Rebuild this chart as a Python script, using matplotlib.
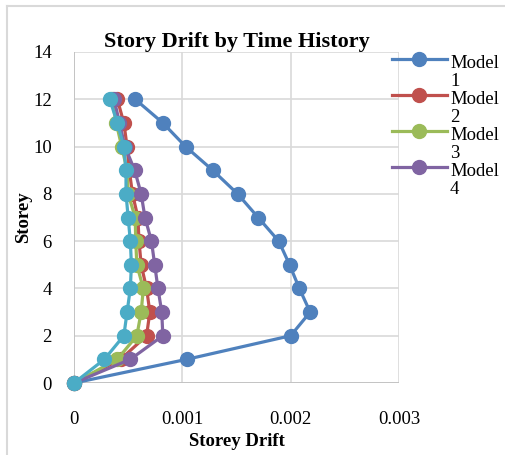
import matplotlib
matplotlib.use("Agg")
import matplotlib.pyplot as plt
from matplotlib.lines import Line2D

plt.rcParams.update({
    "font.family": "serif",
    "font.serif": ["Liberation Serif", "DejaVu Serif"],
    "font.size": 13.5,
})

storey = [0, 1, 2, 3, 4, 5, 6, 7, 8, 9, 10, 11, 12]
model1 = [0, 0.00104, 0.00200, 0.00218, 0.00208, 0.00199, 0.00189, 0.00170,
          0.00151, 0.00128, 0.00103, 0.00082, 0.000565]
model2 = [0, 0.00043, 0.00067, 0.00070, 0.00067, 0.00062, 0.00060, 0.00059,
          0.00054, 0.00051, 0.00049, 0.00046, 0.00040]
model3 = [0, 0.00040, 0.00058, 0.00062, 0.00064, 0.00058, 0.00057, 0.000565,
          0.00050, 0.00049, 0.00044, 0.00039, 0.00035]
model4 = [0, 0.00052, 0.00082, 0.00081, 0.000775, 0.000745, 0.000715, 0.000655,
          0.00062, 0.00056, 0.00047, 0.00042, 0.00037]
model5 = [0, 0.00028, 0.00046, 0.00049, 0.00052, 0.00053, 0.00052, 0.00050,
          0.00048, 0.00048, 0.00046, 0.00040, 0.00033]

series = [("Model\n1", model1, "#4F81BD"),
          ("Model\n2", model2, "#C0504D"),
          ("Model\n3", model3, "#9BBB59"),
          ("Model\n4", model4, "#8064A2"),
          ("Model\n5", model5, "#4BACC6")]

W, H = 506, 455
fig = plt.figure(figsize=(W / 100, H / 100), dpi=100)
ax = fig.add_axes([74 / W, 1 - 383 / H, (399 - 74) / W, (383 - 52) / H])

lines = []
for label, vals, color in series:
    ln, = ax.plot(vals, storey, color=color, lw=2.3, marker="o", ms=10,
                  clip_on=False, zorder=3)
    lines.append(ln)

ax.set_xlim(0, 0.003)
ax.set_ylim(0, 14)
ax.set_xticks([0, 0.001, 0.002, 0.003])
ax.set_xticklabels(["0", "0.001", "0.002", "0.003"])
ax.set_yticks(range(0, 15, 2))
ax.grid(True, color="#d9d9d9", lw=1.2)
ax.set_axisbelow(True)
for s in ax.spines.values():
    s.set_visible(False)
ax.axvline(0, color="#bfbfbf", lw=1.2, zorder=1)
ax.axhline(0, color="#bfbfbf", lw=1.2, zorder=1)
ax.tick_params(length=0)
ax.tick_params(axis="y", pad=16)
ax.tick_params(axis="x", pad=20)

ax.set_title("Story Drift by Time History", fontsize=16, fontweight="bold", pad=1)
ax.set_xlabel("Storey Drift", fontsize=13.5, fontweight="bold", va="center")
ax.set_ylabel("Storey", fontsize=13.5, fontweight="bold", va="center")
ax.xaxis.set_label_coords(0.5, -(441 - 383) / 331)
ax.yaxis.set_label_coords(-(74 - 24) / 325, (383 - 217) / 331)

# legend (only the first four series are shown, as in the source)
for i, ln in enumerate(lines[:4]):
    y = 1 - (58.5 + 36 * i) / H
    fig.add_artist(Line2D([392 / W, 447 / W], [y, y], transform=fig.transFigure,
                          color=ln.get_color(), lw=2.3))
    fig.add_artist(Line2D([419 / W], [y], transform=fig.transFigure,
                          color=ln.get_color(), marker="o", ms=10))
    fig.text(450 / W, y + 4 / H, series[i][0], ha="left", va="top",
             fontsize=13.5, linespacing=1.1)

# chart border
fig.add_artist(Line2D([7 / W, 1.0], [1 - 6 / H, 1 - 6 / H], transform=fig.transFigure,
                      color="#d9d9d9", lw=1.5))
fig.add_artist(Line2D([7 / W, 7 / W], [1 - 6 / H, 0], transform=fig.transFigure,
                      color="#d9d9d9", lw=1.5))

fig.savefig("out.png", dpi=100)
